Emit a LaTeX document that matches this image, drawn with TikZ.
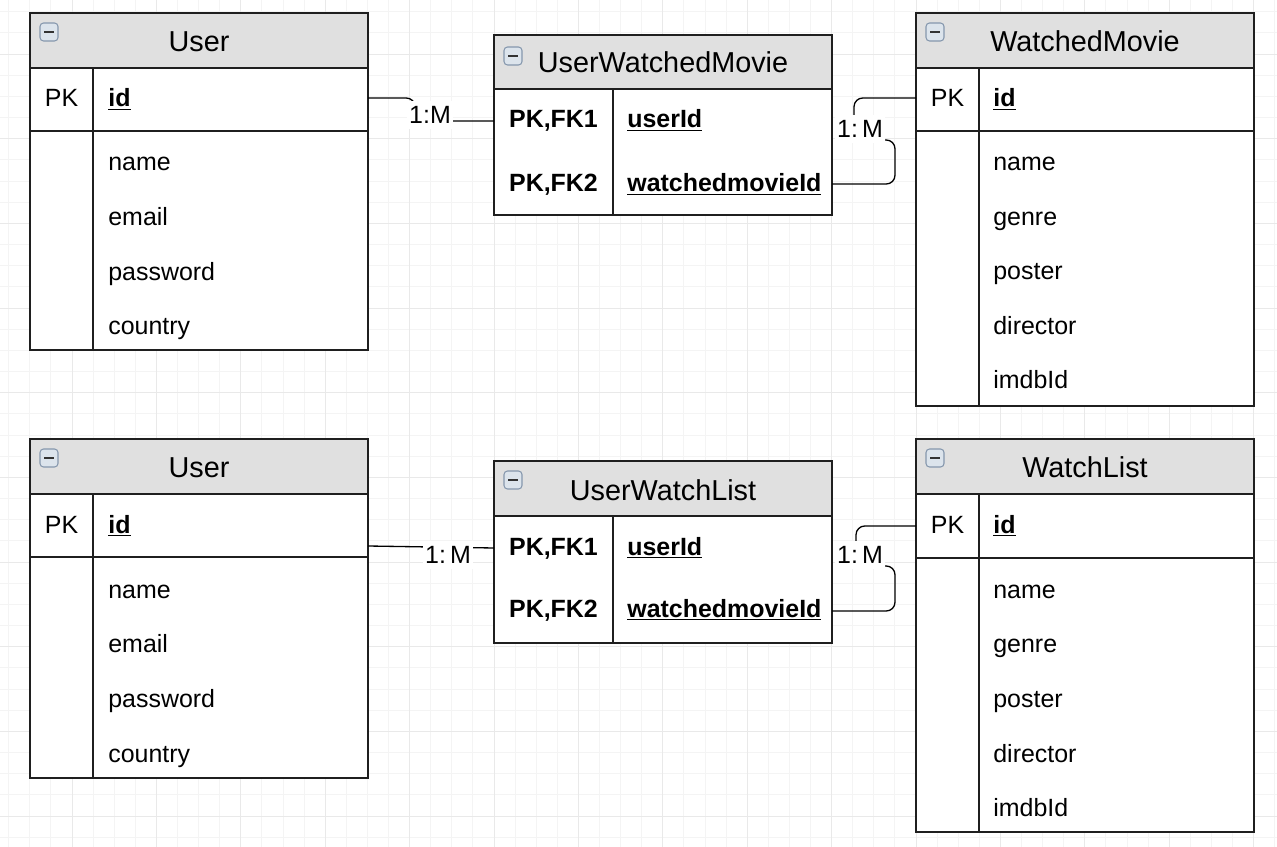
\documentclass[tikz,border=0pt]{standalone}
\usepackage{fontspec}
\setmainfont{Liberation Sans}
\usepackage{tikz}
\usetikzlibrary{calc}
\definecolor{headgray}{HTML}{E0E0E0}
\definecolor{gridmin}{HTML}{F4F4F4}
\definecolor{gridmaj}{HTML}{E9E9E9}
\definecolor{iconfill}{HTML}{DCE4EC}
\definecolor{iconline}{HTML}{8597AD}
\tikzset{
	tbl/.style={line width=0.85pt, color=black!88},
	sep/.style={line width=1.3pt, color=black!88},
	ttl/.style={font=\fontsize{16.4}{18}\selectfont, anchor=base, inner sep=0pt},
	fld/.style={font=\fontsize{14.2}{16}\selectfont, anchor=base west, inner sep=0pt},
	pkey/.style={font=\fontsize{14.2}{16}\selectfont, anchor=base, inner sep=0pt},
	edge/.style={line width=0.75pt, rounded corners=5pt},
	card/.style={fill=white, font=\fontsize{14.2}{16}\selectfont, inner xsep=1pt, inner ysep=3pt},
	minorln/.style={line width=0.5pt, color=gridmin},
	majorln/.style={line width=0.55pt, color=gridmaj}
}
\def\minusbox(#1,#2){\draw[line width=0.6pt, color=iconline, fill=iconfill, rounded corners=2pt] ({#1+10},{#2+10}) rectangle ++(18,18); \draw[line width=1.2pt, color=black!80] ({#1+14},{#2+19}) -- ++(10,0);}

\begin{document}
\begin{tikzpicture}[x=0.02cm, y=-0.02cm]
		%%%%% START %%%%%
		
		\useasboundingbox[fill=white] (0,0) rectangle (1277,847);
		
		\foreach \i in {0,...,61} {\draw[minorln] ({-12.4+21.1*\i},0) -- ++(0,847);}
		\foreach \i in {0,...,41} {\draw[minorln] (0,{-30.7+21.17*\i}) -- ++(1277,0);}
		\foreach \i in {0,...,15} {\draw[majorln] ({-12.4+84.4*\i},0) -- ++(0,847);}
		\foreach \i in {0,...,10} {\draw[majorln] (0,{-30.7+84.7*\i}) -- ++(1277,0);}
		
		% User (top)
		\draw[tbl, fill=white] (30,13) rectangle (368,350);
		\draw[tbl, fill=headgray] (30,13) rectangle (368,68);
		\draw[tbl] (93,68) -- (93,350);
		\draw[sep] (30,131) -- (368,131);
		\minusbox(30,13)
		\node[ttl] (u1t) at (199,52) {User};
		\node[pkey] (u1pk) at (61.5,107) {PK};
		\node[fld] (u1id) at (108,107) {\underline{\textbf{id}}};
		\node[fld] (u1name) at (108,171) {name};
		\node[fld] (u1mail) at (108,226) {email};
		\node[fld] (u1pass) at (108,281) {password};
		\node[fld] (u1ctry) at (108,335) {country};
		\coordinate (u1idE) at (368,98);
		
		% UserWatchedMovie
		\draw[tbl, fill=white] (494,35) rectangle (832,215);
		\draw[tbl, fill=headgray] (494,35) rectangle (832,89);
		\draw[tbl] (613,89) -- (613,215);
		\minusbox(494,37)
		\node[ttl] (uwmt) at (663,73) {UserWatchedMovie};
		\node[pkey] (uwmk1) at (553.5,128) {\textbf{PK,FK1}};
		\node[fld] (uwmuid) at (627,128) {\underline{\textbf{userId}}};
		\node[pkey] (uwmk2) at (553.5,192) {\textbf{PK,FK2}};
		\node[fld] (uwmmid) at (627,192) {\underline{\textbf{watchedmovieId}}};
		\coordinate (uwmK1W) at (494,121);
		\coordinate (uwmK2E) at (832,184);
		
		% WatchedMovie
		\draw[tbl, fill=white] (916,13) rectangle (1254,406);
		\draw[tbl, fill=headgray] (916,13) rectangle (1254,68);
		\draw[tbl] (979,68) -- (979,406);
		\draw[sep] (916,131) -- (1254,131);
		\minusbox(916,13)
		\node[ttl] (wmt) at (1085,52) {WatchedMovie};
		\node[pkey] (wmpk) at (947.5,107) {PK};
		\node[fld] (wmid) at (993,107) {\underline{\textbf{id}}};
		\node[fld] (wmname) at (993,171) {name};
		\node[fld] (wmgenre) at (993,225.5) {genre};
		\node[fld] (wmposter) at (993,280) {poster};
		\node[fld] (wmdir) at (993,334.5) {director};
		\node[fld] (wmimdb) at (993,389) {imdbId};
		\coordinate (wmidW) at (916,98);
		
		% User (bottom)
		\draw[tbl, fill=white] (30,439) rectangle (368,778);
		\draw[tbl, fill=headgray] (30,439) rectangle (368,494);
		\draw[tbl] (93,494) -- (93,778);
		\draw[sep] (30,557) -- (368,557);
		\minusbox(30,439)
		\node[ttl] (u2t) at (199,478) {User};
		\node[pkey] (u2pk) at (61.5,533) {PK};
		\node[fld] (u2id) at (108,533) {\underline{\textbf{id}}};
		\node[fld] (u2name) at (108,598) {name};
		\node[fld] (u2mail) at (108,652) {email};
		\node[fld] (u2pass) at (108,707) {password};
		\node[fld] (u2ctry) at (108,762) {country};
		\coordinate (u2idE) at (368,546);
		
		% UserWatchList
		\draw[tbl, fill=white] (494,461) rectangle (832,643);
		\draw[tbl, fill=headgray] (494,461) rectangle (832,516);
		\draw[tbl] (613,516) -- (613,643);
		\minusbox(494,461)
		\node[ttl] (uwlt) at (663,500) {UserWatchList};
		\node[pkey] (uwlk1) at (553.5,555) {\textbf{PK,FK1}};
		\node[fld] (uwluid) at (627,555) {\underline{\textbf{userId}}};
		\node[pkey] (uwlk2) at (553.5,617) {\textbf{PK,FK2}};
		\node[fld] (uwlmid) at (627,617) {\underline{\textbf{watchedmovieId}}};
		\coordinate (uwlK1W) at (494,548);
		\coordinate (uwlK2E) at (832,611);
		
		% WatchList
		\draw[tbl, fill=white] (916,439) rectangle (1254,832);
		\draw[tbl, fill=headgray] (916,439) rectangle (1254,494);
		\draw[tbl] (979,494) -- (979,832);
		\draw[sep] (916,558) -- (1254,558);
		\minusbox(916,439)
		\node[ttl] (wlt) at (1085,478) {WatchList};
		\node[pkey] (wlpk) at (947.5,533) {PK};
		\node[fld] (wlid) at (993,533) {\underline{\textbf{id}}};
		\node[fld] (wlname) at (993,598) {name};
		\node[fld] (wlgenre) at (993,652) {genre};
		\node[fld] (wlposter) at (993,707) {poster};
		\node[fld] (wldir) at (993,762) {director};
		\node[fld] (wlimdb) at (993,816) {imdbId};
		\coordinate (wlidW) at (916,526);
		
		% relations
		\draw[edge] (u1idE) -- ++(47,0) |- (uwmK1W);
		\node[card] (c1) at (430,115) {1:M};
		\draw[edge] (uwmK2E) -- ++(63,0) -- ++(0,-44) -- ++(-41,0) |- (wmidW);
		\node[card] (c2) at (860,129) {1:\,M};
		
		\draw[edge] (u2idE) -- (uwlK1W);
		\node[card] (c3) at (448,555) {1:\,M};
		\draw[edge] (uwlK2E) -- ++(63,0) -- ++(0,-45) -- ++(-39,0) |- (wlidW);
		\node[card] (c4) at (860,555) {1:\,M};
		
		%%%%% END %%%%%
	\end{tikzpicture}
\end{document}
